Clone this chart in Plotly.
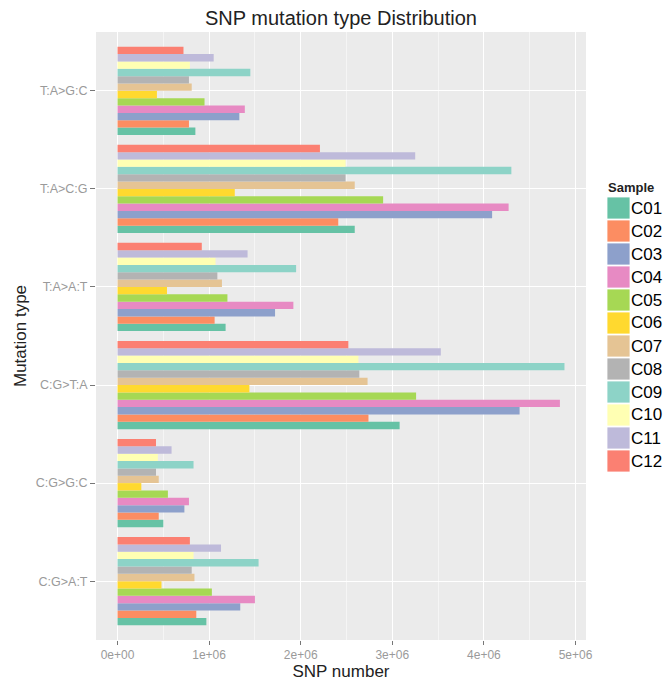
import plotly.graph_objects as go

# ---- data ----
mutation_types = ["C:G>A:T", "C:G>G:C", "C:G>T:A", "T:A>A:T", "T:A>C:G", "T:A>G:C"]
samples = ["C01", "C02", "C03", "C04", "C05", "C06", "C07", "C08", "C09", "C10", "C11", "C12"]
colors = ["#66C2A5", "#FC8D62", "#8DA0CB", "#E78AC3", "#A6D854", "#FFD92F",
          "#E5C494", "#B3B3B3", "#8DD3C7", "#FFFFB3", "#BEBADA", "#FB8072"]

# values per sample, in the order of mutation_types
C01 = [0.97e6, 0.50e6, 3.08e6, 1.18e6, 2.59e6, 0.85e6]
C02 = [0.86e6, 0.45e6, 2.74e6, 1.06e6, 2.41e6, 0.78e6]
C03 = [1.34e6, 0.73e6, 4.39e6, 1.72e6, 4.09e6, 1.33e6]
C04 = [1.50e6, 0.78e6, 4.83e6, 1.92e6, 4.27e6, 1.39e6]
C05 = [1.03e6, 0.55e6, 3.26e6, 1.20e6, 2.90e6, 0.95e6]
C06 = [0.48e6, 0.26e6, 1.44e6, 0.54e6, 1.28e6, 0.43e6]
C07 = [0.84e6, 0.45e6, 2.73e6, 1.14e6, 2.59e6, 0.81e6]
C08 = [0.81e6, 0.42e6, 2.64e6, 1.09e6, 2.49e6, 0.78e6]
C09 = [1.54e6, 0.83e6, 4.88e6, 1.95e6, 4.30e6, 1.45e6]
C10 = [0.83e6, 0.44e6, 2.63e6, 1.07e6, 2.49e6, 0.79e6]
C11 = [1.13e6, 0.59e6, 3.53e6, 1.42e6, 3.25e6, 1.05e6]
C12 = [0.79e6, 0.42e6, 2.52e6, 0.92e6, 2.21e6, 0.72e6]
values = [C01, C02, C03, C04, C05, C06, C07, C08, C09, C10, C11, C12]

x_tickvals = [0, 1e6, 2e6, 3e6, 4e6, 5e6]
x_ticktext = ["0e+00", "1e+06", "2e+06", "3e+06", "4e+06", "5e+06"]

# ---- layout constants (pixels, page coordinates; page body has 8px margin) ----
OFF = 8
W, H = 672 - OFF, 681 - OFF
L, R, T, B = 96 - OFF, 586 - OFF, 32 - OFF, 640 - OFF
FONT = "Liberation Sans, Arial, Helvetica, sans-serif"
TICK_GREY = "#9A9A9A"

fig = go.Figure()
for name, vals, col in zip(samples, values, colors):
    fig.add_trace(go.Bar(
        x=vals, y=mutation_types, name=name, orientation="h",
        marker=dict(color=col, line=dict(width=0)), showlegend=False,
    ))

def px_x(px):
    return (px - OFF - L) / (R - L)

def px_y(py):
    return (B - (py - OFF)) / (B - T)

shapes = []
annotations = []
# custom ggplot-style legend
annotations.append(dict(text="<b>Sample</b>", x=px_x(606), y=px_y(187), xref="paper", yref="paper",
                        xanchor="left", yanchor="middle", showarrow=False,
                        font=dict(family=FONT, size=13, color="#222222")))
for i, (name, col) in enumerate(zip(samples, colors)):
    cy = 208 + 23 * i
    shapes.append(dict(type="rect", xref="paper", yref="paper",
                       x0=px_x(607), x1=px_x(630), y0=px_y(cy + 11), y1=px_y(cy - 11),
                       fillcolor=col, line=dict(width=0.8, color="white"), layer="above"))
    annotations.append(dict(text=name, x=px_x(629), y=px_y(cy), xref="paper", yref="paper",
                            xanchor="left", yanchor="middle", showarrow=False,
                            font=dict(family=FONT, size=17, color="#000000")))

fig.update_layout(
    width=W, height=H,
    margin=dict(l=L, r=W - R, t=T, b=H - B, pad=0, autoexpand=False),
    paper_bgcolor="white", plot_bgcolor="#EBEBEB",
    barmode="group", bargap=0.1, bargroupgap=0,
    title=dict(text="SNP mutation type Distribution", x=(L + R) / 2 / W, xanchor="center",
               y=1 - (18 - OFF) / H, yanchor="middle",
               font=dict(family=FONT, size=20, color="#222222")),
    font=dict(family=FONT),
    shapes=shapes, annotations=annotations,
    showlegend=False,
)
fig.update_xaxes(
    automargin=False,
    range=[-0.235e6, 5.115e6], tickvals=x_tickvals, ticktext=x_ticktext,
    showgrid=True, gridcolor="white", gridwidth=1.2, zeroline=False,
    minor=dict(dtick=5e5, tick0=5e5, showgrid=True, gridcolor="#F5F5F5", gridwidth=0.6, ticks=""),
    ticks="outside", ticklen=4, tickcolor="#777777", tickwidth=1,
    tickfont=dict(family=FONT, size=12, color=TICK_GREY),
    title=dict(text="SNP number", font=dict(family=FONT, size=17, color="#222222"), standoff=1),
    showline=False,
)
fig.update_yaxes(
    automargin=False,
    type="category", categoryorder="array", categoryarray=mutation_types,
    range=[-0.6, 5.6],
    showgrid=True, gridcolor="white", gridwidth=1.2, zeroline=False,
    ticks="outside", ticklen=5, tickcolor="#777777", tickwidth=1,
    tickfont=dict(family=FONT, size=12.5, color=TICK_GREY),
    title=dict(text="Mutation type", font=dict(family=FONT, size=17, color="#222222"), standoff=4),
    showline=False,
)

fig.write_html("out.html")
